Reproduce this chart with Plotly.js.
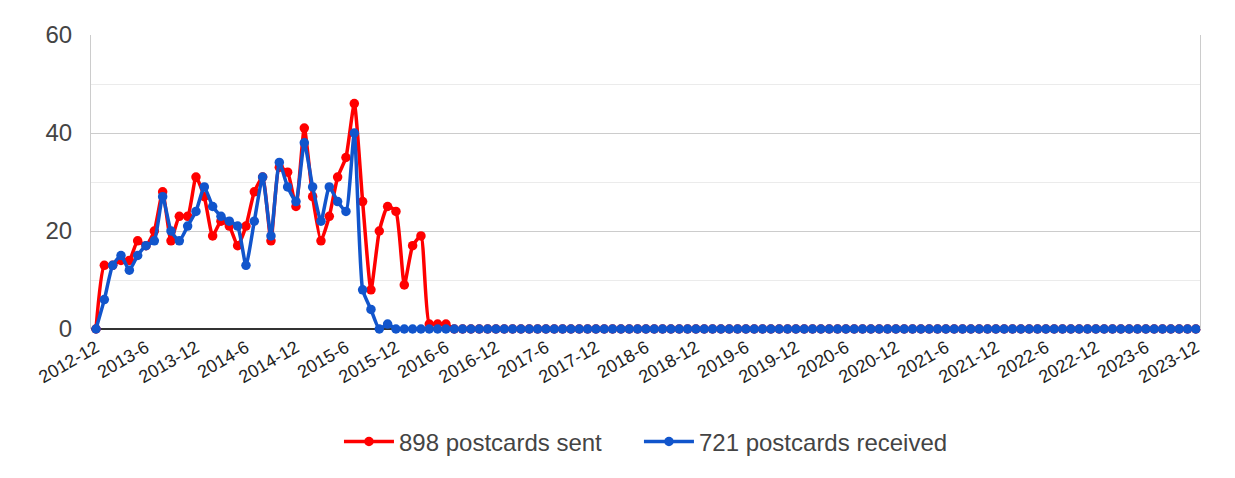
<!DOCTYPE html>
<html>
<head>
<meta charset="utf-8">
<script src="https://cdn.plot.ly/plotly-3.0.1.min.js"></script>
<style>
html,body{margin:0;padding:0;background:#fff;}
#chart{width:1235px;height:478px;}
</style>
</head>
<body>
<div id="chart"></div>
<script>
// Months from 2012-12 to 2023-12 (category labels, format yyyy-M)
var startYear = 2012, startMonth = 12, monthCount = 133;
var months = [];
for (var k = 0; k < monthCount; k++) {
  var m = startMonth - 1 + k;
  months.push((startYear + Math.floor(m / 12)) + '-' + (m % 12 + 1));
}

var sentName = '898 postcards sent';
var receivedName = '721 postcards received';

var sent = [
  0,13,13,14,14,18,17,20,28,18,23,23,31,27,19,22,21,17,21,28,
  31,18,33,32,25,41,27,18,23,31,35,46,26,8,20,25,24,9,17,19,
  1,1,1,0,0,0,0,0,0,0,0,0,0,0,0,0,0,0,0,0,
  0,0,0,0,0,0,0,0,0,0,0,0,0,0,0,0,0,0,0,0,
  0,0,0,0,0,0,0,0,0,0,0,0,0,0,0,0,0,0,0,0,
  0,0,0,0,0,0,0,0,0,0,0,0,0,0,0,0,0,0,0,0,
  0,0,0,0,0,0,0,0,0,0,0,0,0
];

var received = [
  0,6,13,15,12,15,17,18,27,20,18,21,24,29,25,23,22,21,13,22,
  31,19,34,29,26,38,29,22,29,26,24,40,8,4,0,1,0,0,0,0,
  0,0,0,0,0,0,0,0,0,0,0,0,0,0,0,0,0,0,0,0,
  0,0,0,0,0,0,0,0,0,0,0,0,0,0,0,0,0,0,0,0,
  0,0,0,0,0,0,0,0,0,0,0,0,0,0,0,0,0,0,0,0,
  0,0,0,0,0,0,0,0,0,0,0,0,0,0,0,0,0,0,0,0,
  0,0,0,0,0,0,0,0,0,0,0,0,0
];

var tickLabels = months.filter(function (d, i) { return i % 6 === 0; });

var FONT = '"Liberation Sans", Arial, sans-serif';

var traces = [
  {
    x: months, y: sent, name: sentName, type: 'scatter', mode: 'lines+markers',
    line: {color: '#ff0000', width: 3.5, shape: 'spline', smoothing: 0.5},
    marker: {color: '#ff0000', size: 9.5},
    cliponaxis: false, legend: 'legend'
  },
  {
    x: months, y: received, name: receivedName, type: 'scatter', mode: 'lines+markers',
    line: {color: '#1155cc', width: 3.5, shape: 'spline', smoothing: 0.5},
    marker: {color: '#1155cc', size: 9.5},
    cliponaxis: false, legend: 'legend2'
  }
];

var legendBase = {
  orientation: 'h', xanchor: 'left', y: -0.384, yanchor: 'middle',
  font: {family: FONT, size: 24, color: '#444'},
  itemwidth: 50, bgcolor: 'rgba(0,0,0,0)'
};

var layout = {
  width: 1235, height: 478,
  margin: {l: 91, r: 35, t: 35, b: 149, pad: 0},
  paper_bgcolor: '#fff', plot_bgcolor: '#fff',
  font: {family: FONT, color: '#444'},
  showlegend: true,
  legend: Object.assign({}, legendBase, {x: 0.2236}),
  legend2: Object.assign({}, legendBase, {x: 0.4941}),
  xaxis: {
    type: 'category',
    range: [-0.6, 132.5],
    tickmode: 'array', tickvals: tickLabels, ticktext: tickLabels,
    tickangle: -30,
    tickfont: {family: FONT, size: 18, color: '#222'},
    showgrid: false, zeroline: false, showline: false, ticks: '',
    ticklabelstandoff: 4
  },
  yaxis: {
    range: [0, 60], dtick: 20, tick0: 0,
    tickfont: {family: FONT, size: 24, color: '#444'},
    showgrid: true, gridcolor: '#cccccc', gridwidth: 1,
    minor: {dtick: 10, showgrid: true, gridcolor: '#ebebeb', gridwidth: 1},
    zeroline: true, zerolinecolor: '#333333', zerolinewidth: 2,
    showline: true, mirror: true, linecolor: '#cccccc', linewidth: 1,
    ticks: '', ticklabelstandoff: 13
  }
};

Plotly.newPlot('chart', traces, layout, {displayModeBar: false, staticPlot: true});
</script>
</body>
</html>
